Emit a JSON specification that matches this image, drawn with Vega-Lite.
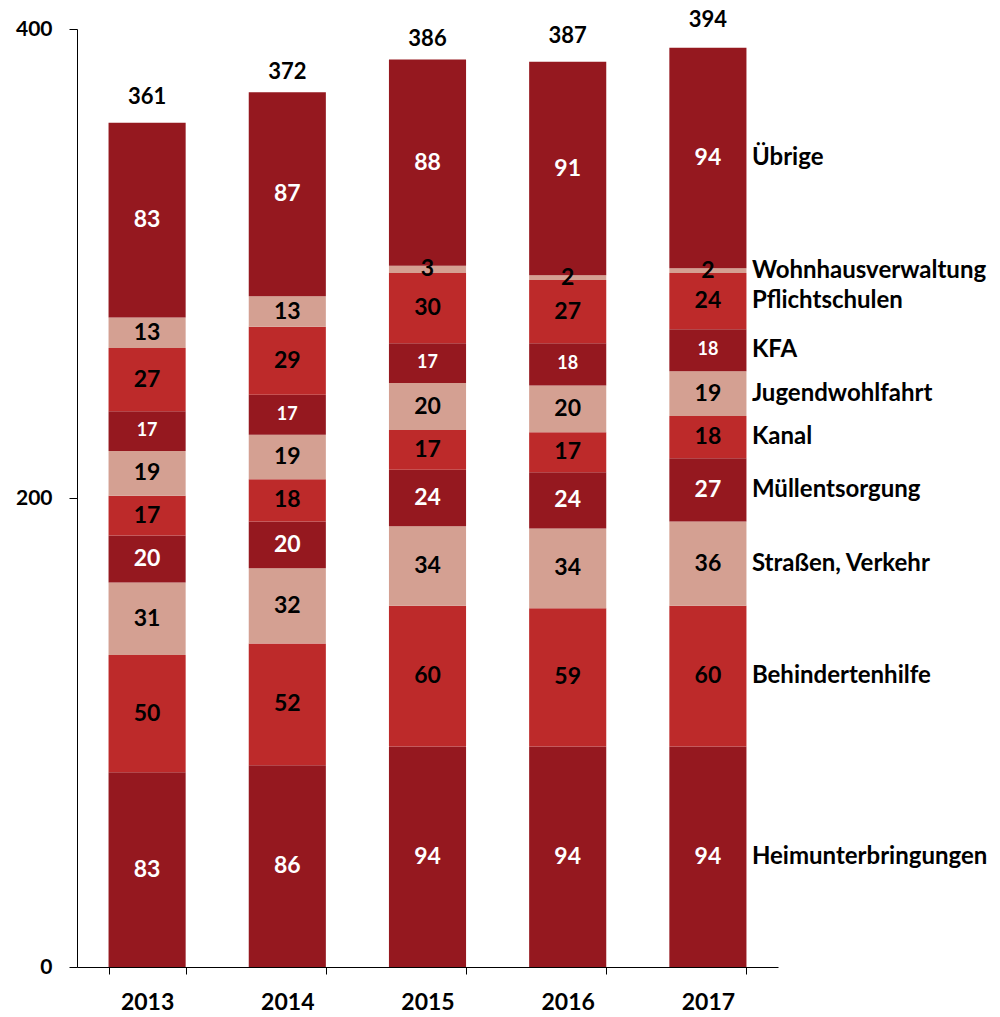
{
  "$schema": "https://vega.github.io/schema/vega-lite/v6.json",
  "width": 701,
  "height": 938,
  "autosize": {"type": "none"},
  "padding": {"left": 77, "top": 29, "right": 222, "bottom": 50},
  "background": "white",
  "config": {"view": {"stroke": null}, "font": "Lato"},
  "datasets": {
    "parts": [
      {"year": "2013", "cat": "Heimunterbringungen", "value": 83},
      {"year": "2013", "cat": "Behindertenhilfe", "value": 50},
      {"year": "2013", "cat": "Straßen, Verkehr", "value": 31},
      {"year": "2013", "cat": "Müllentsorgung", "value": 20},
      {"year": "2013", "cat": "Kanal", "value": 17},
      {"year": "2013", "cat": "Jugendwohlfahrt", "value": 19},
      {"year": "2013", "cat": "KFA", "value": 17},
      {"year": "2013", "cat": "Pflichtschulen", "value": 27},
      {"year": "2013", "cat": "Wohnhausverwaltung", "value": 13},
      {"year": "2013", "cat": "Übrige", "value": 83},
      {"year": "2014", "cat": "Heimunterbringungen", "value": 86},
      {"year": "2014", "cat": "Behindertenhilfe", "value": 52},
      {"year": "2014", "cat": "Straßen, Verkehr", "value": 32},
      {"year": "2014", "cat": "Müllentsorgung", "value": 20},
      {"year": "2014", "cat": "Kanal", "value": 18},
      {"year": "2014", "cat": "Jugendwohlfahrt", "value": 19},
      {"year": "2014", "cat": "KFA", "value": 17},
      {"year": "2014", "cat": "Pflichtschulen", "value": 29},
      {"year": "2014", "cat": "Wohnhausverwaltung", "value": 13},
      {"year": "2014", "cat": "Übrige", "value": 87},
      {"year": "2015", "cat": "Heimunterbringungen", "value": 94},
      {"year": "2015", "cat": "Behindertenhilfe", "value": 60},
      {"year": "2015", "cat": "Straßen, Verkehr", "value": 34},
      {"year": "2015", "cat": "Müllentsorgung", "value": 24},
      {"year": "2015", "cat": "Kanal", "value": 17},
      {"year": "2015", "cat": "Jugendwohlfahrt", "value": 20},
      {"year": "2015", "cat": "KFA", "value": 17},
      {"year": "2015", "cat": "Pflichtschulen", "value": 30},
      {"year": "2015", "cat": "Wohnhausverwaltung", "value": 3},
      {"year": "2015", "cat": "Übrige", "value": 88},
      {"year": "2016", "cat": "Heimunterbringungen", "value": 94},
      {"year": "2016", "cat": "Behindertenhilfe", "value": 59},
      {"year": "2016", "cat": "Straßen, Verkehr", "value": 34},
      {"year": "2016", "cat": "Müllentsorgung", "value": 24},
      {"year": "2016", "cat": "Kanal", "value": 17},
      {"year": "2016", "cat": "Jugendwohlfahrt", "value": 20},
      {"year": "2016", "cat": "KFA", "value": 18},
      {"year": "2016", "cat": "Pflichtschulen", "value": 27},
      {"year": "2016", "cat": "Wohnhausverwaltung", "value": 2},
      {"year": "2016", "cat": "Übrige", "value": 91},
      {"year": "2017", "cat": "Heimunterbringungen", "value": 94},
      {"year": "2017", "cat": "Behindertenhilfe", "value": 60},
      {"year": "2017", "cat": "Straßen, Verkehr", "value": 36},
      {"year": "2017", "cat": "Müllentsorgung", "value": 27},
      {"year": "2017", "cat": "Kanal", "value": 18},
      {"year": "2017", "cat": "Jugendwohlfahrt", "value": 19},
      {"year": "2017", "cat": "KFA", "value": 18},
      {"year": "2017", "cat": "Pflichtschulen", "value": 24},
      {"year": "2017", "cat": "Wohnhausverwaltung", "value": 2},
      {"year": "2017", "cat": "Übrige", "value": 94}
    ],
    "totals": [
      {"year": "2013", "total": 361},
      {"year": "2014", "total": 372},
      {"year": "2015", "total": 386},
      {"year": "2016", "total": 387},
      {"year": "2017", "total": 394}
    ]
  },
  "encoding": {
    "x": {
      "field": "year", "type": "nominal",
      "scale": {"paddingInner": 0.45, "paddingOuter": 0.225},
      "axis": {
        "title": null, "labelAngle": 0, "labelFontSize": 23, "labelFontWeight": "bold",
        "labelColor": "#000", "domainColor": "#000", "tickColor": "#000",
        "tickBand": "extent", "tickSize": 7, "labelPadding": 17
      }
    }
  },
  "layer": [
    {
      "data": {"name": "parts"},
      "transform": [
        {"calculate": "indexof(['Heimunterbringungen','Behindertenhilfe','Straßen, Verkehr','Müllentsorgung','Kanal','Jugendwohlfahrt','KFA','Pflichtschulen','Wohnhausverwaltung','Übrige'], datum.cat)", "as": "idx"},
        {"stack": "value", "groupby": ["year"], "sort": [{"field": "idx", "order": "ascending"}], "as": ["y0", "y1"]},
        {"calculate": "(datum.y0 + datum.y1) / 2", "as": "mid"}
      ],
      "layer": [
        {
          "mark": {"type": "bar"},
          "encoding": {
            "y": {
              "field": "y1", "type": "quantitative",
              "scale": {"domain": [0, 400], "nice": false},
              "axis": {
                "title": null, "values": [0, 200, 400], "grid": false,
                "labelFontSize": 21, "labelFontWeight": "bold", "labelColor": "#000",
                "domainColor": "#000", "tickColor": "#000", "tickSize": 8, "labelPadding": 17
              }
            },
            "y2": {"field": "y0"},
            "color": {
              "field": "cat", "type": "nominal", "legend": null,
              "scale": {
                "domain": ["Heimunterbringungen","Behindertenhilfe","Straßen, Verkehr","Müllentsorgung","Kanal","Jugendwohlfahrt","KFA","Pflichtschulen","Wohnhausverwaltung","Übrige"],
                "range": ["#95181f","#bd2a2a","#d4a092","#95181f","#bd2a2a","#d4a092","#95181f","#bd2a2a","#d4a092","#95181f"]
              }
            }
          }
        },
        {
          "mark": {"type": "text", "fontWeight": "bold", "baseline": "middle", "align": "center"},
          "encoding": {
            "y": {"field": "mid", "type": "quantitative"},
            "text": {"field": "value", "type": "quantitative"},
            "color": {
              "condition": {"test": "indexof(['Heimunterbringungen','Müllentsorgung','KFA','Übrige'], datum.cat) >= 0", "value": "white"},
              "value": "black"
            },
            "size": {
              "condition": {"test": "datum.cat === 'KFA'", "value": 18},
              "value": 23
            }
          }
        },
        {
          "transform": [{"filter": "datum.year === '2017'"}],
          "mark": {"type": "text", "fontWeight": "bold", "baseline": "middle", "align": "left", "dx": 44, "fontSize": 24, "color": "black"},
          "encoding": {
            "y": {"field": "mid", "type": "quantitative"},
            "text": {"field": "cat", "type": "nominal"}
          }
        }
      ]
    },
    {
      "data": {"name": "totals"},
      "mark": {"type": "text", "fontWeight": "bold", "baseline": "bottom", "align": "center", "dy": -11, "fontSize": 22, "color": "black"},
      "encoding": {
        "y": {"field": "total", "type": "quantitative"},
        "text": {"field": "total", "type": "quantitative"}
      }
    }
  ]
}
